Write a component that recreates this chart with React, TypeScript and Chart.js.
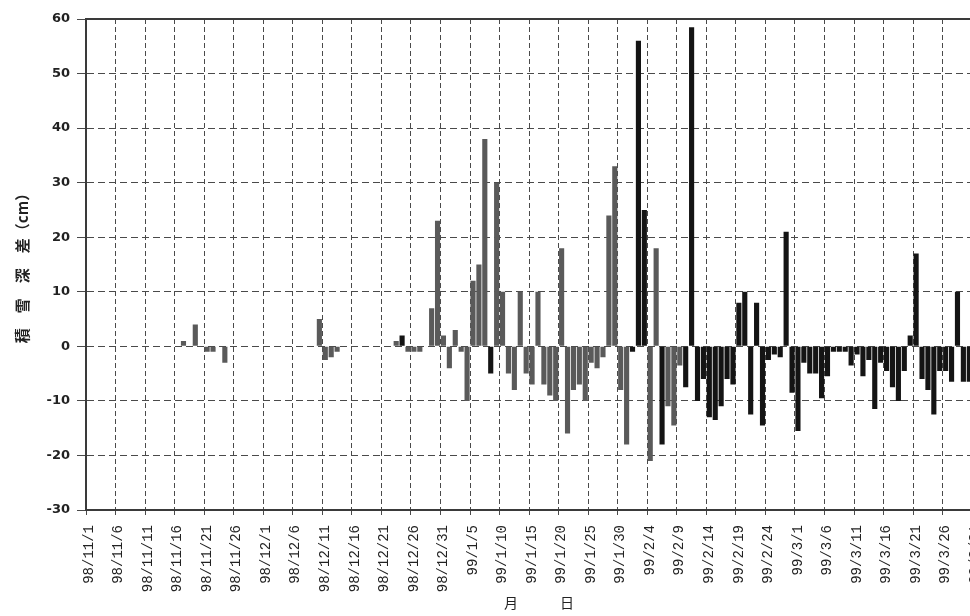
import React, { useEffect, useRef } from 'react';
import { Chart, registerables } from 'chart.js';

Chart.register(...registerables);

// Month blocks (category labels are built from these)
const months = [
  { prefix: '98/11/', days: 30 },
  { prefix: '98/12/', days: 31 },
  { prefix: '99/1/', days: 31 },
  { prefix: '99/2/', days: 28 },
  { prefix: '99/3/', days: 31 },
];

// Daily snow depth difference (cm)
const novValues = [0, 0, 0, 0, 0, 0, 0, 0, 0, 0, 0, 0, 0, 0, 0, 0, 1, 0, 4, 0, -1, -1, 0, -3, 0, 0, 0, 0, 0, 0];
const decValues = [0, 0, 0, 0, 0, 0, 0, 0, 0, 5, -2.5, -2, -1, 0, 0, 0, 0, 0, 0, 0, 0, 0, 1, 2, -1, -1, -1, 0, 7, 23, 2];
const janValues = [-4, 3, -1, -10, 12, 15, 38, -5, 30, 10, -5, -8, 10, -5, -7, 10, -7, -9, -10, 18, -16, -8, -7, -10, -3, -4, -2, 24, 33, -8, -18];
const febValues = [-1, 56, 25, -21, 18, -18, -11, -14.5, -3.5, -7.5, 58.5, -10, -6, -13, -13.5, -11, -6, -7, 8, 10, -12.5, 8, -14.5, -2.5, -1.5, -2, 21, -8.5];
const marValues = [-15.5, -3, -5, -5, -9.5, -5.5, -1, -1, -1, -3.5, -1.5, -5.5, -2.5, -11.5, -3, -4.5, -7.5, -10, -4.5, 2, 17, -6, -8, -12.5, -4.5, -4.5, -6.5, 10, -6.5, -6.5, -6];

// Days drawn in the dark series
const blackDates = ['98/12/24', '99/1/8', '99/2/1', '99/2/2', '99/2/3', '99/2/6'];
const blackFrom = '99/2/10';

const yMin = -30;
const yMax = 60;
const yStep = 10;
const labelEvery = 5;

const yTitle = '積　雪　深　差（cm）';
const xTitle = '　月　　　日';

const categories: string[] = months.flatMap((m) =>
  Array.from({ length: m.days }, (_, i) => m.prefix + (i + 1))
);
const values: number[] = [novValues, decValues, janValues, febValues, marValues].flat();
const blackStart = categories.indexOf(blackFrom);
const isBlack = categories.map((c, i) => i >= blackStart || blackDates.includes(c));
const grayData = values.map((v, i) => (isBlack[i] ? null : v));
const blackData = values.map((v, i) => (isBlack[i] ? v : null));

const frameTop = {
  id: 'frameTop',
  afterDraw(chart: any) {
    const { ctx, chartArea } = chart;
    ctx.save();
    ctx.strokeStyle = '#3a3a3a';
    ctx.lineWidth = 2;
    ctx.beginPath();
    ctx.moveTo(chartArea.left, chartArea.top);
    ctx.lineTo(chartArea.right + 30, chartArea.top);
    ctx.stroke();
    ctx.restore();
  },
};

export default function App() {
  const ref = useRef<HTMLCanvasElement | null>(null);

  useEffect(() => {
    if (!ref.current) return;
    const gridColor = '#4a4a4a';
    const chart = new Chart(ref.current, {
      type: 'bar',
      data: {
        labels: categories,
        datasets: [
          {
            label: 'a',
            data: grayData,
            backgroundColor: '#5a5a5a',
            grouped: false,
            barPercentage: 0.87,
            categoryPercentage: 1,
          } as any,
          {
            label: 'b',
            data: blackData,
            backgroundColor: '#141414',
            grouped: false,
            barPercentage: 0.87,
            categoryPercentage: 1,
          } as any,
        ],
      },
      options: {
        responsive: false,
        animation: false,
        layout: { padding: { left: 0, top: 19, right: 0, bottom: 0 } },
        plugins: { legend: { display: false }, tooltip: { enabled: false } },
        scales: {
          x: {
            offset: true,
            grid: {
              offset: true,
              color: (c: any) => (c.index % labelEvery === 0 ? gridColor : 'rgba(0,0,0,0)'),
              lineWidth: 1,
              tickLength: 5,
            },
            border: { color: '#3a3a3a', width: 2, dash: [5, 3] },
            ticks: {
              autoSkip: false,
              maxRotation: 90,
              minRotation: 90,
              padding: 10,
              color: '#222',
              font: { family: '"Liberation Mono", "DejaVu Sans Mono", monospace', size: 14 },
              callback: (_v: any, i: number) => (i % labelEvery === 0 ? categories[i] : ''),
            },
            title: {
              display: true,
              text: xTitle,
              color: '#222',
              font: { family: '"Noto Sans CJK JP", sans-serif', size: 14 },
              padding: { top: 0, bottom: 5 },
            },
            afterFit: (s: any) => {
              s.height = 106;
            },
          },
          y: {
            min: yMin,
            max: yMax,
            ticks: {
              stepSize: yStep,
              padding: 7,
              color: '#222',
              font: { family: '"DejaVu Sans", sans-serif', size: 13, weight: 'bold' },
            },
            grid: { color: gridColor, lineWidth: 1, tickLength: 9 },
            border: { color: '#3a3a3a', width: 2, dash: [7, 4] },
            title: {
              display: true,
              text: yTitle,
              color: '#222',
              font: { family: '"Noto Sans CJK JP", sans-serif', size: 15, weight: 'bold' },
              padding: { top: 13, bottom: 0 },
            },
            afterFit: (s: any) => {
              s.width = 86;
            },
          },
        },
      } as any,
      plugins: [frameTop],
    });
    return () => chart.destroy();
  }, []);

  return (
    <div
      style={{
        position: 'fixed',
        left: 0,
        top: 0,
        width: 970,
        height: 616,
        overflow: 'hidden',
        background: '#fff',
      }}
    >
      <canvas ref={ref} width={1002} height={616} style={{ display: 'block' }} />
    </div>
  );
}
